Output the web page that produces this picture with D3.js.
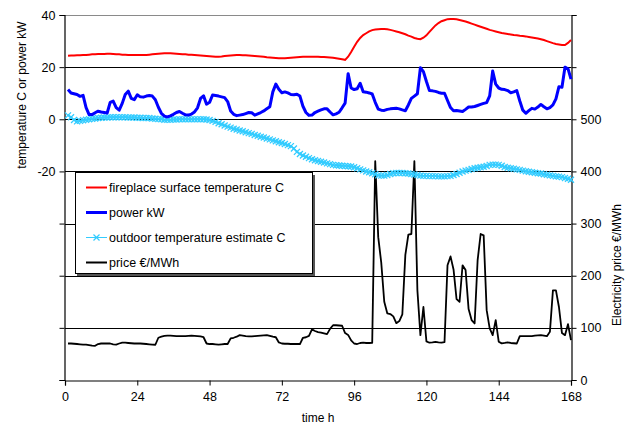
<!DOCTYPE html>
<html>
<head>
<meta charset="utf-8">
<script src="https://cdn.jsdelivr.net/npm/d3@7"></script>
<style>
  body { margin: 0; background: #fff; }
  svg text { font-family: "Liberation Sans", Arial, sans-serif; fill: #000; }
</style>
</head>
<body>
<svg id="chart" width="629" height="425"></svg>
<script>
// hourly samples, hour 1..168
var fireplaceTemp = [
  24.4,24.5,24.5,24.6,24.6,24.7,24.7,24.8,24.9,24.9,
  25.0,25.0,25.0,25.1,25.1,25.0,24.9,24.9,24.8,24.8,
  24.7,24.7,24.7,24.7,24.7,24.7,24.7,24.8,24.9,25.0,
  25.1,25.2,25.3,25.3,25.3,25.2,25.1,25.0,24.9,24.9,
  24.8,24.8,24.7,24.6,24.5,24.4,24.3,24.2,24.1,24.0,
  24.0,24.1,24.3,24.4,24.5,24.6,24.7,24.7,24.6,24.6,
  24.5,24.4,24.3,24.2,24.1,24.0,23.8,23.7,23.6,23.5,
  23.4,23.4,23.4,23.5,23.6,23.7,23.8,23.9,24.0,24.0,
  24.0,24.0,24.0,24.0,23.9,23.9,23.8,23.7,23.6,23.4,
  23.2,23.0,22.8,24.0,25.8,27.8,29.7,31.2,32.3,33.0,
  33.7,34.2,34.4,34.5,34.6,34.6,34.5,34.3,34.0,33.7,
  33.4,33.0,32.6,32.1,31.7,31.2,30.9,30.7,31.3,32.2,
  33.5,34.8,36.0,36.9,37.6,38.0,38.4,38.5,38.5,38.4,
  38.1,37.8,37.5,37.1,36.7,36.3,35.9,35.5,35.1,34.7,
  34.3,34.0,33.7,33.4,33.1,32.9,32.7,32.5,32.3,32.2,
  32.0,31.9,31.8,31.6,31.4,31.2,31.0,30.7,30.4,30.0,
  29.6,29.2,28.9,28.7,28.5,28.5,29.3,30.4
];
var powerKW = [
  11.4,10.1,9.8,9.5,8.8,9.2,4.5,1.8,1.8,2.5,
  3.1,2.8,2.6,2.4,6.5,7.0,4.5,3.5,6.1,9.5,
  10.8,8.0,7.5,9.4,8.6,8.5,8.9,9.1,8.9,7.5,
  4.6,2.3,1.2,0.9,1.3,1.9,2.6,3.0,2.3,1.7,
  1.6,2.0,2.8,4.4,8.0,9.0,5.8,6.5,9.3,9.1,
  8.9,8.6,8.3,6.8,3.2,1.9,1.4,1.6,1.8,2.2,
  2.6,2.5,1.6,2.1,2.6,3.2,4.0,4.8,10.5,13.5,
  11.5,10.2,10.5,10.1,9.5,9.4,9.6,8.9,5.0,2.6,
  1.5,1.6,2.6,3.1,3.6,4.0,4.0,2.8,1.7,2.1,
  2.7,4.4,6.2,17.5,12.0,11.4,11.7,13.8,10.6,10.4,
  10.1,9.7,6.5,3.9,3.5,3.4,3.8,4.0,4.1,4.2,
  4.0,3.6,3.3,5.5,8.0,8.9,9.8,19.8,18.3,14.5,
  11.0,10.9,10.7,10.3,10.0,10.0,7.2,4.5,3.3,3.4,
  3.2,3.0,3.8,4.7,4.7,4.9,5.3,5.7,6.1,6.4,
  9.0,18.5,13.5,12.0,11.5,11.4,11.0,10.2,10.5,11.0,
  7.0,3.5,2.3,3.3,4.2,3.9,4.7,5.7,4.8,4.0,
  4.5,5.5,7.8,12.5,12.3,20.0,19.4,15.4
];
var outdoorTemp = [
  1.5,0.8,-0.3,-0.8,-0.6,-0.4,-0.2,0.0,0.2,0.3,
  0.5,0.6,0.7,0.7,0.8,0.8,0.8,0.8,0.8,0.8,
  0.7,0.7,0.7,0.6,0.6,0.5,0.5,0.5,0.3,0.2,
  0.1,0.0,-0.2,-0.2,-0.2,-0.1,-0.1,0.0,0.0,0.0,
  0.0,0.0,0.0,0.0,0.0,0.0,-0.1,-0.3,-0.6,-1.0,
  -1.5,-1.9,-2.4,-2.8,-3.2,-3.6,-3.9,-4.3,-4.6,-5.0,
  -5.3,-5.6,-6.0,-6.3,-6.7,-7.0,-7.4,-7.7,-8.1,-8.4,
  -8.8,-9.1,-9.5,-9.9,-10.3,-11.2,-12.5,-13.3,-13.9,-14.4,
  -14.9,-15.3,-15.7,-16.0,-16.3,-16.6,-16.9,-17.2,-17.5,-17.6,
  -17.7,-17.8,-17.9,-18.0,-18.1,-18.4,-18.8,-19.2,-19.6,-20.0,
  -20.3,-20.7,-21.1,-21.5,-21.6,-21.6,-21.4,-21.0,-20.7,-20.6,
  -20.6,-20.6,-20.7,-20.8,-21.0,-21.2,-21.4,-21.6,-21.7,-21.7,
  -21.8,-21.8,-21.8,-21.9,-21.9,-21.9,-21.8,-21.7,-21.4,-21.0,
  -20.5,-20.0,-19.7,-19.4,-19.1,-18.8,-18.6,-18.4,-18.2,-17.9,
  -17.5,-17.4,-17.4,-17.5,-17.8,-18.3,-18.6,-18.8,-19.0,-19.2,
  -19.4,-19.7,-19.9,-20.1,-20.3,-20.5,-20.7,-20.8,-21.1,-21.3,
  -21.5,-21.7,-21.9,-22.0,-22.2,-22.5,-22.8,-23.2
];
var priceEUR = [
  70,70,69.5,69,68.5,68,68,67,66,65.6,
  69,70,70,70,70,68.5,68,70,71.5,71.5,
  71,70.5,70,70,70,69.5,69,68.5,68,67.6,
  81,83,84.5,85,85,84.5,84,84,84,84,
  84.5,85,84.5,84,83.5,82,70,69,69,68.5,
  68,68.5,69,69,79.7,81,83,86,85,84,
  83.5,83.5,84,84.5,85,85.5,86,84.5,83,82,
  72,70,69.5,69.5,69,69,69,69,81,82,
  84.5,97,94,92,91,89.5,88,98,105,105,
  104.5,104,90,86.5,76,70,69,71,71.5,71,
  71,71.4,419.7,274,225,150,128,126.5,122,109,
  113,126,240,279,280,419.7,172,86,140,74,
  71.5,72,73,72,71.5,72.5,220,237,212,155,
  150,220,211,136,115,108.5,230,280,277.5,134,
  99,86,114.8,73.4,70.2,71,72,71,70.5,70,
  84,84,84,84,84,85,85.5,86,85,84,
  92.5,172,172,140,90,86,107,76.5
];
var hourTicks = [0, 24, 48, 72, 96, 120, 144, 168];
var leftTicks = [40, 20, 0, -20, -40, -60, -80, -100];
var leftLabels = [40, 20, 0, -20];
var rightTicks = [0, 100, 200, 300, 400, 500, 600, 700];
var rightLabels = [0, 100, 200, 300, 400, 500];
var seriesNames = ["fireplace surface temperature C", "power kW",
  "outdoor temperature estimate C", "price \u20ac/MWh"];

var svg = d3.select("#chart");
var x = d3.scaleLinear().domain([0, 168]).range([65, 571]);
var yL = d3.scaleLinear().domain([-100, 40]).range([380, 15]);
var yR = d3.scaleLinear().domain([0, 700]).range([380, 15]);

var hours = d3.range(1, 169);

// gridlines
svg.append("g").selectAll("line")
  .data(leftTicks.filter(function (t) { return t > -100; }))
  .enter().append("line")
  .attr("x1", 65).attr("x2", 571)
  .attr("y1", function (d) { return Math.round(yL(d)) + 0.5; })
  .attr("y2", function (d) { return Math.round(yL(d)) + 0.5; })
  .attr("stroke", function (d) { return d === 40 ? "#8a8a8a" : "#000"; })
  .attr("stroke-width", 1);

// axes
var leftAxis = d3.axisLeft(yL).tickValues(leftTicks).tickSize(5)
  .tickFormat(function (d) { return leftLabels.indexOf(d) >= 0 ? d : ""; });
var rightAxis = d3.axisRight(yR).tickValues(rightTicks).tickSize(5)
  .tickFormat(function (d) { return rightLabels.indexOf(d) >= 0 ? d : ""; });
var bottomAxis = d3.axisBottom(x).tickValues(hourTicks).tickSize(5);

function styleAxis(g) {
  g.select(".domain").attr("stroke", "#000");
  g.selectAll(".tick line").attr("stroke", "#000");
  g.selectAll(".tick text").style("font-size", "12.5px").attr("fill", "#000");
}
svg.append("g").attr("transform", "translate(64.5,0)").call(leftAxis).call(styleAxis)
  .selectAll(".tick text").attr("x", -9);
svg.append("g").attr("transform", "translate(571.5,0)").call(rightAxis).call(styleAxis)
  .selectAll(".tick text").attr("x", 9);
svg.append("g").attr("transform", "translate(0,380.5)").call(bottomAxis).call(styleAxis)
  .selectAll(".tick text").attr("y", 12);
svg.selectAll(".domain").attr("stroke-width", 1.2);

// axis titles
svg.append("text").attr("transform", "translate(26,95) rotate(-90)")
  .attr("text-anchor", "middle").style("font-size", "12px")
  .text("temperature C or power kW");
svg.append("text").attr("transform", "translate(621,265) rotate(-90)")
  .attr("text-anchor", "middle").style("font-size", "12px")
  .text("Electricity price \u20ac/MWh");
svg.append("text").attr("x", 318).attr("y", 422)
  .attr("text-anchor", "middle").style("font-size", "12px").text("time h");

function lineOn(y, values) {
  return d3.line()
    .x(function (d, i) { return x(hours[i]); })
    .y(function (d) { return y(d); })(values);
}

// price
svg.append("path").attr("d", lineOn(yR, priceEUR))
  .attr("fill", "none").attr("stroke", "#000").attr("stroke-width", 1.8)
  .attr("stroke-linejoin", "round");

// outdoor temperature with x markers
var cyan = "#33ccff";
svg.append("path").attr("d", lineOn(yL, outdoorTemp))
  .attr("fill", "none").attr("stroke", cyan).attr("stroke-width", 1.5);
svg.append("g").selectAll("path").data(outdoorTemp).enter().append("path")
  .attr("d", function (d, i) {
    var cx = x(hours[i]), cy = yL(d), s = 3;
    return "M" + (cx - s) + "," + (cy - s) + "L" + (cx + s) + "," + (cy + s) +
      "M" + (cx - s) + "," + (cy + s) + "L" + (cx + s) + "," + (cy - s);
  })
  .attr("stroke", cyan).attr("stroke-width", 1.3).attr("fill", "none");

// fireplace temperature
svg.append("path").attr("d", lineOn(yL, fireplaceTemp))
  .attr("fill", "none").attr("stroke", "#ff0000").attr("stroke-width", 2);

// power
svg.append("path").attr("d", lineOn(yL, powerKW))
  .attr("fill", "none").attr("stroke", "#0000ff").attr("stroke-width", 3)
  .attr("stroke-linejoin", "round");

// legend
var lg = svg.append("g");
lg.append("rect").attr("x", 77).attr("y", 175).attr("width", 238).attr("height", 101)
  .attr("fill", "#555");
lg.append("rect").attr("x", 75.5).attr("y", 172.5).attr("width", 237).attr("height", 101)
  .attr("fill", "#fff").attr("stroke", "#000").attr("stroke-width", 1);
var legColors = ["#ff0000", "#0000ff", cyan, "#000"];
var legWidths = [2, 3, 1, 2];
var items = lg.selectAll("g.item").data(seriesNames).enter().append("g")
  .attr("class", "item")
  .attr("transform", function (d, i) { return "translate(0," + (187.5 + i * 25) + ")"; });
items.append("line").attr("x1", 86).attr("x2", 107).attr("y1", 0).attr("y2", 0)
  .attr("stroke", function (d, i) { return legColors[i]; })
  .attr("stroke-width", function (d, i) { return legWidths[i]; });
items.filter(function (d, i) { return i === 2; }).append("path")
  .attr("d", "M93.5,-3L99.5,3M93.5,3L99.5,-3")
  .attr("stroke", cyan).attr("stroke-width", 1.2);
items.append("text").attr("x", 109).attr("y", 0).attr("dy", "0.35em")
  .style("font-size", "12.5px").text(function (d) { return d; });
</script>
</body>
</html>
